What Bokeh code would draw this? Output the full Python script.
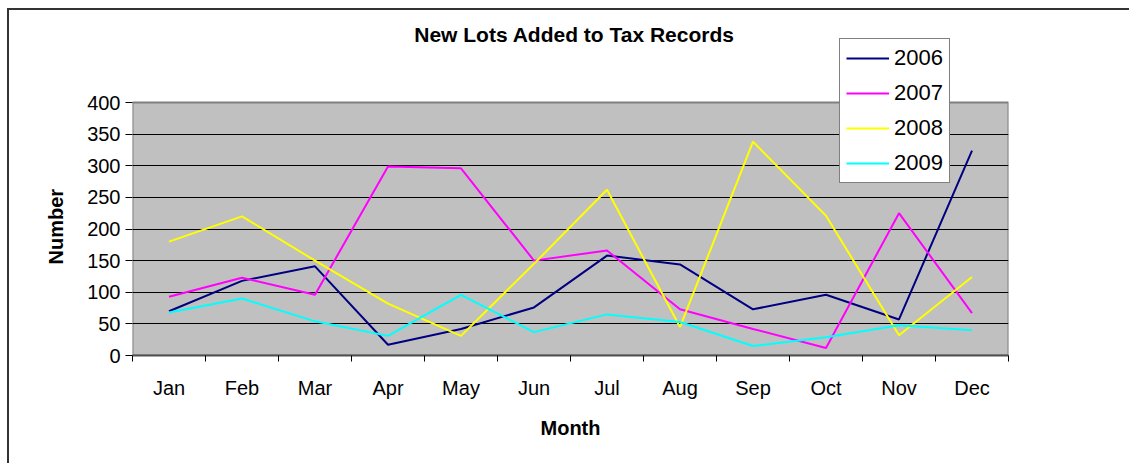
from bokeh.plotting import figure
from bokeh.models import FixedTicker, Legend, LegendItem, ColumnDataSource, Range1d, Label, Title
from bokeh.embed import file_html
from bokeh.resources import INLINE

months = ["Jan", "Feb", "Mar", "Apr", "May", "Jun", "Jul", "Aug", "Sep", "Oct", "Nov", "Dec"]
years = ["2006", "2007", "2008", "2009"]
v2006 = [70, 118, 141, 17, 42, 76, 158, 144, 73, 96, 57, 324]
v2007 = [93, 123, 96, 299, 296, 150, 166, 73, 42, 12, 225, 67]
v2008 = [180, 220, 150, 82, 31, 145, 262, 45, 338, 221, 32, 124]
v2009 = [68, 90, 54, 31, 96, 37, 65, 53, 15, 29, 48, 40]
colors = ["#000080", "#FF00FF", "#FFFF00", "#00FFFF"]
y_ticks = [0, 50, 100, 150, 200, 250, 300, 350, 400]

FONT = "Liberation Sans"
xs = [i + 0.5 for i in range(len(months))]
Y_MAX = y_ticks[-1]
PLOT_H = 253          # pixel height of the grey plotting area
FRAME_H = 344         # frame extends above it to hold the legend and title
y_end = Y_MAX * FRAME_H / PLOT_H

p = figure(frame_width=876, frame_height=FRAME_H,
           x_range=Range1d(0, len(months)), y_range=Range1d(0, y_end),
           output_backend="svg", toolbar_location=None,
           min_border_left=123, min_border_right=121, min_border_top=1, min_border_bottom=108,
           background_fill_color="white", border_fill_color="white")
p.styles = {"border-top": "2px solid #333333", "border-left": "2px solid #333333",
            "margin-left": "7px", "margin-top": "8px"}
p.outline_line_color = None

# grey plot area
p.quad(left=[0], right=[len(months)], bottom=[0], top=[Y_MAX],
       fill_color="#C0C0C0", line_color="#808080", line_width=2, level="image")

renderers = []
for name, vals, c in zip(years, [v2006, v2007, v2008, v2009], colors):
    src = ColumnDataSource(dict(x=xs, y=vals))
    r = p.line("x", "y", source=src, line_color=c, line_width=2)
    renderers.append(r)

# title
p.add_layout(Label(x=442, y=321, x_units="screen", y_units="screen",
                   text="New Lots Added to Tax Records", text_font=FONT,
                   text_font_size="21px", text_font_style="bold", text_color="#000000",
                   text_align="center", text_baseline="middle"))

# x axis
xa = p.xaxis[0]
xa.ticker = FixedTicker(ticks=xs, minor_ticks=list(range(len(months) + 1)))
xa.major_label_overrides = {x: m for x, m in zip(xs, months)}
xa.major_tick_out = 0
xa.major_tick_in = 0
xa.minor_tick_out = 6
xa.minor_tick_in = 0
xa.minor_tick_line_color = "#000000"
xa.axis_line_color = "#505050"
xa.axis_line_width = 2
xa.major_label_text_font = FONT
xa.major_label_text_font_size = "20px"
xa.major_label_text_color = "#000000"
xa.major_label_standoff = 15
xa.axis_label = "Month"
xa.axis_label_text_font = FONT
xa.axis_label_text_font_size = "20px"
xa.axis_label_text_font_style = "bold"
xa.axis_label_text_color = "#000000"
xa.axis_label_standoff = 15

# y axis
ya = p.yaxis[0]
ya.ticker = FixedTicker(ticks=y_ticks)
ya.bounds = (0, Y_MAX)
ya.minor_tick_line_color = None
ya.major_tick_out = 7
ya.major_tick_in = 0
ya.major_tick_line_color = "#000000"
ya.axis_line_color = None
ya.major_label_text_font = FONT
ya.major_label_text_font_size = "20px"
ya.major_label_text_color = "#000000"
ya.major_label_standoff = 5

p.add_layout(Title(text="Number", align="left", offset=91, standoff=36,
                   text_font=FONT, text_font_size="20px", text_font_style="bold",
                   text_color="#000000"), "left")

p.xgrid.grid_line_color = None
p.ygrid.ticker = FixedTicker(ticks=y_ticks[1:-1])
p.ygrid.grid_line_color = "#000000"
p.ygrid.grid_line_width = 1

legend = Legend(items=[LegendItem(label=y, renderers=[r]) for y, r in zip(years, renderers)],
                location=(707, 172))
legend.label_text_font = FONT
legend.label_text_font_size = "22px"
legend.label_text_color = "#000000"
legend.glyph_width = 43
legend.glyph_height = 26
legend.label_height = 26
legend.spacing = 9
legend.padding = 6
legend.margin = 0
legend.label_standoff = 5
legend.border_line_color = "#000000"
legend.border_line_width = 1
legend.background_fill_color = "white"
legend.background_fill_alpha = 1
p.add_layout(legend, "center")

open("out.html", "w").write(file_html(p, INLINE))
